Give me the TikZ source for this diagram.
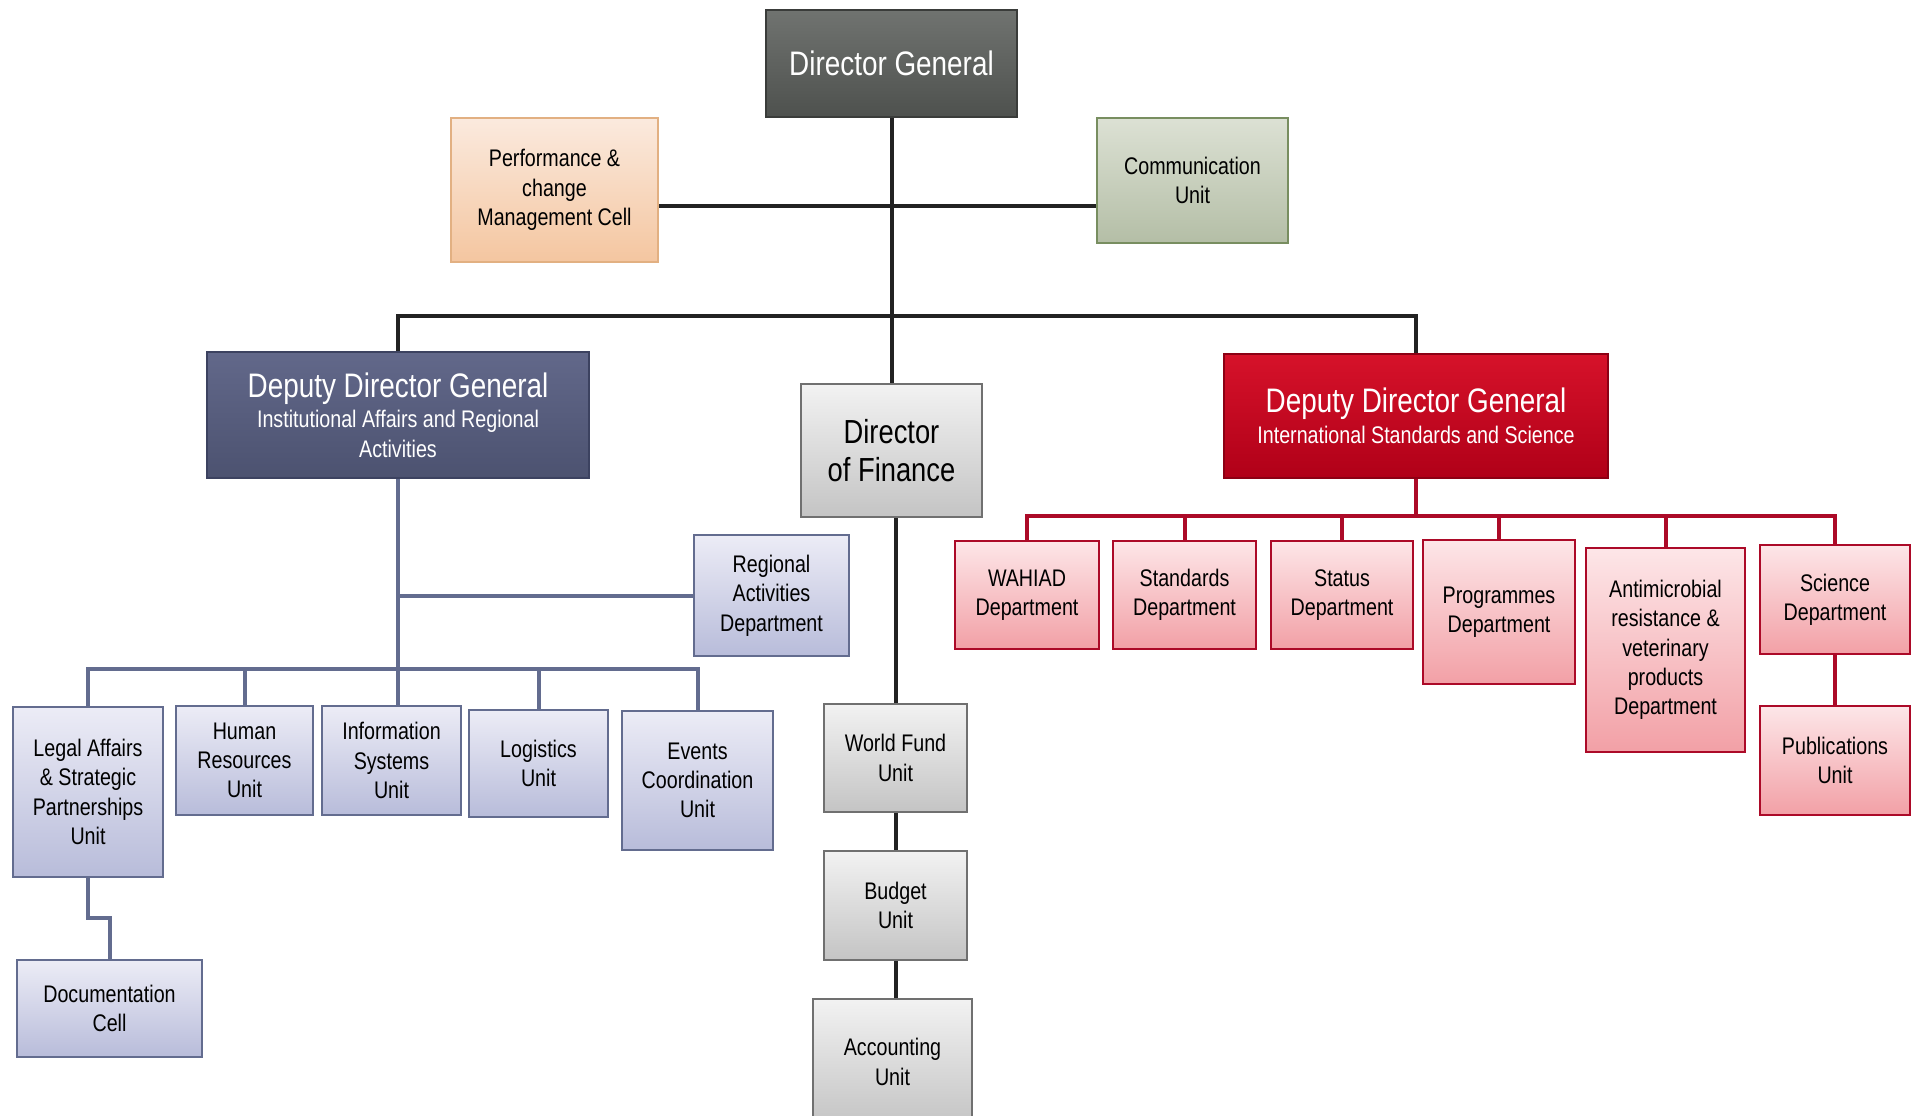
\documentclass[tikz,border=0pt]{standalone}
\usepackage{fontspec}
\setmainfont{Liberation Sans}[FakeStretch=0.82]

\definecolor{dgborder}{RGB}{58,60,58}
\definecolor{dgtop}{RGB}{112,115,112}
\definecolor{dgbot}{RGB}{78,81,78}
\definecolor{bluetop}{RGB}{98,104,138}
\definecolor{bluebot}{RGB}{76,82,112}
\definecolor{blueborder}{RGB}{60,66,96}
\definecolor{redtop}{RGB}{214,18,42}
\definecolor{redbot}{RGB}{176,0,24}
\definecolor{redborder}{RGB}{140,0,20}
\definecolor{lilatop}{RGB}{236,236,246}
\definecolor{lilabot}{RGB}{184,188,218}
\definecolor{lilaline}{RGB}{99,108,143}
\definecolor{pinktop}{RGB}{253,230,232}
\definecolor{pinkbot}{RGB}{242,160,166}
\definecolor{pinkline}{RGB}{172,10,40}
\definecolor{greytop}{RGB}{242,242,242}
\definecolor{greybot}{RGB}{196,196,196}
\definecolor{greyline}{RGB}{112,112,112}
\definecolor{peachtop}{RGB}{251,234,222}
\definecolor{peachbot}{RGB}{244,198,160}
\definecolor{peachline}{RGB}{226,176,130}
\definecolor{sagetop}{RGB}{220,225,212}
\definecolor{sagebot}{RGB}{180,190,166}
\definecolor{sageline}{RGB}{120,142,96}
\definecolor{linkblack}{RGB}{34,34,34}

\tikzset{every picture/.style={line width=0.75pt}}

\begin{document}
\begin{tikzpicture}[x=0.75pt,y=0.75pt,yscale=-1,xscale=1,
  unitbox/.style={draw, align=center, inner sep=0pt, line width=1.5pt, font=\fontsize{18}{22}\selectfont},
  lilabox/.style={unitbox, draw=lilaline, top color=lilatop, bottom color=lilabot},
  pinkbox/.style={unitbox, draw=pinkline, top color=pinktop, bottom color=pinkbot},
  greybox/.style={unitbox, draw=greyline, top color=greytop, bottom color=greybot},
  headbox/.style={draw, align=center, inner sep=0pt, line width=1.5pt, text=white, font=\fontsize{18}{22}\selectfont},
  blacklink/.style={draw=linkblack, line width=3pt},
  lilalink/.style={draw=lilaline, line width=3pt},
  pinklink/.style={draw=pinkline, line width=3pt}]

\useasboundingbox (0,0) rectangle (1912,1116);

% Top level
\node [headbox, draw=dgborder, top color=dgtop, bottom color=dgbot, minimum width=188.25pt, minimum height=80.25pt, font=\fontsize{25.5}{30}\selectfont] (dg) at (891.5,63.5) {Director General};
\node [unitbox, draw=peachline, top color=peachtop, bottom color=peachbot, minimum width=155.25pt, minimum height=108pt] (perf) at (554.5,190) {Performance \&\\change\\Management Cell};
\node [unitbox, draw=sageline, top color=sagetop, bottom color=sagebot, minimum width=143.25pt, minimum height=93.75pt] (comm) at (1192.5,180.5) {Communication\\Unit};

% Second level
\node [headbox, draw=blueborder, top color=bluetop, bottom color=bluebot, minimum width=286.5pt, minimum height=94.5pt] (ddgl) at (398,415) {{\fontsize{25.5}{26}\selectfont Deputy Director General}\\[1pt]Institutional Affairs and Regional\\Activities};
\node [greybox, minimum width=135.75pt, minimum height=99.75pt, font=\fontsize{25}{29}\selectfont] (dof) at (891.5,450.5) {Director\\of Finance};
\node [headbox, draw=redborder, top color=redtop, bottom color=redbot, minimum width=288pt, minimum height=93pt] (ddgr) at (1416,416) {{\fontsize{25.5}{26}\selectfont Deputy Director General}\\[1pt]International Standards and Science};

% Institutional affairs units
\node [lilabox, minimum width=116.25pt, minimum height=90.75pt] (reg) at (771.5,595.5) {Regional\\Activities\\Department};
\node [lilabox, minimum width=112.5pt, minimum height=127.5pt] (legal) at (88,792) {Legal Affairs\\\& Strategic\\Partnerships\\Unit};
\node [lilabox, minimum width=102.75pt, minimum height=81.75pt] (hr) at (244.5,760.5) {Human\\Resources\\Unit};
\node [lilabox, minimum width=104.25pt, minimum height=81.75pt] (is) at (391.5,760.5) {Information\\Systems\\Unit};
\node [lilabox, minimum width=104.25pt, minimum height=80.25pt] (log) at (538.5,763.5) {Logistics\\Unit};
\node [lilabox, minimum width=113.25pt, minimum height=104.25pt] (ev) at (697.5,780.5) {Events\\Coordination\\Unit};
\node [lilabox, minimum width=138.75pt, minimum height=72.75pt] (doc) at (109.5,1008.5) {Documentation\\Cell};

% Finance units
\node [greybox, minimum width=107.25pt, minimum height=81pt] (wf) at (895.5,758) {World Fund\\Unit};
\node [greybox, minimum width=107.25pt, minimum height=81.75pt] (bud) at (895.5,905.5) {Budget\\Unit};
\node [greybox, minimum width=119.25pt, minimum height=94.5pt] (acc) at (892.5,1062) {Accounting\\Unit};

% Standards and science departments
\node [pinkbox, minimum width=108pt, minimum height=81pt] (wahiad) at (1027,595) {WAHIAD\\Department};
\node [pinkbox, minimum width=107.25pt, minimum height=81pt] (std) at (1184.5,595) {Standards\\Department};
\node [pinkbox, minimum width=106.5pt, minimum height=81pt] (stat) at (1342,595) {Status\\Department};
\node [pinkbox, minimum width=114pt, minimum height=108pt] (prog) at (1499,612) {Programmes\\Department};
\node [pinkbox, minimum width=119.25pt, minimum height=153pt] (amr) at (1665.5,650) {Antimicrobial\\resistance \&\\veterinary\\products\\Department};
\node [pinkbox, minimum width=112.5pt, minimum height=81.75pt] (sci) at (1835,599.5) {Science\\Department};
\node [pinkbox, minimum width=112.5pt, minimum height=81.75pt] (pub) at (1835,760.5) {Publications\\Unit};

% Bus points
\coordinate (topbus) at (891.5,316);
\coordinate (leftbus) at (398,669);
\coordinate (rightbus) at (1416,516);
\coordinate (docbend) at (88,918);

% Black connectors
\draw [blacklink] (dg.south) -- (dof.north);
\draw [blacklink] (perf.east |- 0,206) -- (comm.west |- 0,206);
\draw [blacklink] (ddgl.north) -- (ddgl.north |- topbus) -- (ddgr.north |- topbus) -- (ddgr.north);
\draw [blacklink] (dof.south -| wf.north) -- (wf.north);
\draw [blacklink] (wf.south) -- (bud.north);
\draw [blacklink] (bud.south) -- (bud.south |- acc.north);

% Institutional affairs connectors
\draw [lilalink] (ddgl.south) -- (ddgl.south |- is.north);
\draw [lilalink] (ddgl.south |- reg.west) -- (reg.west);
\draw [lilalink] (legal.north) -- (legal.north |- leftbus) -- (ev.north |- leftbus) -- (ev.north);
\draw [lilalink] (hr.north |- leftbus) -- (hr.north);
\draw [lilalink] (log.north |- leftbus) -- (log.north);
\draw [lilalink] (legal.south) -- (docbend) -- (docbend -| doc.north) -- (doc.north);

% Standards and science connectors
\draw [pinklink] (ddgr.south) -- (rightbus);
\draw [pinklink] (wahiad.north) -- (wahiad.north |- rightbus) -- (sci.north |- rightbus) -- (sci.north);
\foreach \dept in {std,stat,prog,amr}
  \draw [pinklink] (\dept.north |- rightbus) -- (\dept.north);
\draw [pinklink] (sci.south) -- (pub.north);

\end{tikzpicture}
\end{document}
